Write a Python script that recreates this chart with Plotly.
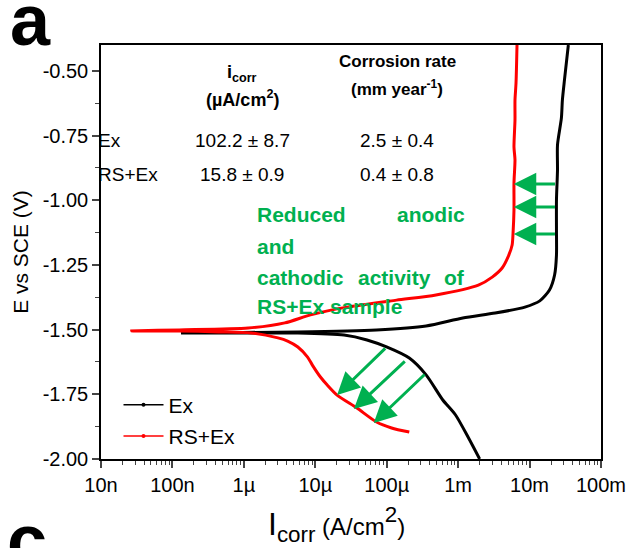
import math
import plotly.graph_objects as go

# Potentiodynamic polarisation curves (current density in A/cm^2, potential in V vs SCE)
ex_current = [2.0e-3, 1.40e-3, 9.2e-4, 6.1e-4, 3.56e-4, 2.07e-4, 9.95e-5, 5.3e-5, 2.53e-5,
              5.7e-6, 1.15e-6, 1.32e-7,
              5.7e-6, 7.2e-5, 3.56e-4, 1.16e-3, 3.3e-3, 8.6e-3, 1.39e-2, 1.9e-2, 2.24e-2,
              2.38e-2, 2.38e-2, 2.38e-2, 2.46e-2, 2.46e-2, 2.79e-2, 2.88e-2, 3.08e-2, 3.49e-2]
ex_potential = [-2.000, -1.919, -1.830, -1.772, -1.675, -1.610, -1.567, -1.540, -1.521,
                -1.513, -1.513, -1.513,
                -1.509, -1.501, -1.486, -1.455, -1.436, -1.413, -1.389, -1.347, -1.289,
                -1.212, -1.115, -0.999, -0.883, -0.786, -0.682, -0.613, -0.535, -0.400]

rsex_current = [2.07e-4, 1.17e-4, 7.2e-5, 3.83e-5, 2.02e-5, 1.47e-5, 1.18e-5, 9.1e-6, 7.8e-6,
                5.7e-6, 4.1e-6, 3.0e-6, 1.26e-6, 4.4e-7, 1.24e-7, 2.69e-8,
                1.24e-7, 1.15e-6, 3.74e-6, 8.6e-6, 2.78e-5, 1.37e-4, 4.89e-4, 1.92e-3,
                3.0e-3, 4.13e-3, 5.0e-3, 5.7e-3, 5.87e-3, 6.05e-3, 6.05e-3, 6.25e-3,
                6.05e-3, 6.25e-3, 6.25e-3, 6.46e-3, 6.67e-3]
rsex_potential = [-1.896, -1.880, -1.857, -1.803, -1.753, -1.714, -1.683, -1.637, -1.606,
                  -1.567, -1.544, -1.532, -1.513, -1.509, -1.505, -1.505,
                  -1.501, -1.494, -1.474, -1.443, -1.413, -1.386, -1.366, -1.328,
                  -1.297, -1.262, -1.219, -1.173, -1.127, -1.038, -0.933, -0.844,
                  -0.794, -0.690, -0.613, -0.547, -0.400]

# Tick labels
x_tick_vals = [1e-8, 1e-7, 1e-6, 1e-5, 1e-4, 1e-3, 1e-2, 1e-1]
x_tick_text = ["10n", "100n", "1µ", "10µ", "100µ", "1m", "10m", "100m"]
y_tick_vals = [-2.00, -1.75, -1.50, -1.25, -1.00, -0.75, -0.50]
y_tick_text = ["-2.00", "-1.75", "-1.50", "-1.25", "-1.00", "-0.75", "-0.50"]

# Arrows (tail current, tail E) -> (head current, head E)
arrow_tail_i = [2.38e-2, 2.38e-2, 2.38e-2, 1.0e-4, 1.88e-4, 3.56e-4]
arrow_tail_e = [-0.937, -1.026, -1.130, -1.567, -1.617, -1.668]
arrow_head_i = [6.0e-3, 6.0e-3, 6.0e-3, 2.02e-5, 3.47e-5, 6.58e-5]
arrow_head_e = [-0.937, -1.026, -1.130, -1.753, -1.807, -1.861]

# Summary table
table_rows = ["Ex", "RS+Ex"]
table_icorr = ["102.2 ± 8.7", "15.8 ± 0.9"]
table_rate = ["2.5 ± 0.4", "0.4 ± 0.8"]

GREEN = "#00B050"
FONT = "Liberation Sans, Arial, Helvetica, sans-serif"

fig = go.Figure()

fig.add_trace(go.Scatter(x=ex_current, y=ex_potential, mode="lines", showlegend=False,
                         line=dict(color="black", width=3, shape="spline", smoothing=0.7)))
fig.add_trace(go.Scatter(x=rsex_current, y=rsex_potential, mode="lines", showlegend=False,
                         line=dict(color="#FF0000", width=3, shape="spline", smoothing=0.7)))

# legend entries with thin line and a small marker
fig.add_trace(go.Scatter(x=[None], y=[None], mode="lines+markers", name="Ex", legendgroup="a",
                         line=dict(color="black", width=1.5), marker=dict(size=4, color="black")))
fig.add_trace(go.Scatter(x=[None], y=[None], mode="lines+markers", name="RS+Ex", legendgroup="b",
                         line=dict(color="#FF0000", width=1.5), marker=dict(size=4, color="#FF0000")))

annotations = []
for ti, te, hi, he in zip(arrow_tail_i, arrow_tail_e, arrow_head_i, arrow_head_e):
    annotations.append(dict(x=math.log10(hi), y=he, ax=math.log10(ti), ay=te,
                            xref="x", yref="y", axref="x", ayref="y", text="",
                            showarrow=True, arrowhead=2, arrowsize=1.5, arrowwidth=3,
                            arrowcolor=GREEN, standoff=0))


def px2paper(px, py):
    return (px - 101) / 506.0, (459 - py) / 414.0


def text_at(px, py, text, size, bold=False, color="black", xanchor="center"):
    x, y = px2paper(px, py)
    if bold:
        text = "<b>" + text + "</b>"
    annotations.append(dict(x=x, y=y, xref="paper", yref="paper", text=text, showarrow=False,
                            xanchor=xanchor, yanchor="middle",
                            font=dict(family=FONT, size=size, color=color)))


# table header
text_at(244, 74, "i<sub>corr</sub>", 18, bold=True)
text_at(244, 98, "(µA/cm<sup>2</sup>)", 18, bold=True)
text_at(401, 62, "Corrosion rate", 17, bold=True)
text_at(401, 88, "(mm year<sup>-1</sup>)", 17, bold=True)
for row, ic, cr, py in zip(table_rows, table_icorr, table_rate, [140, 174]):
    text_at(96, py, row, 19, xanchor="left")
    text_at(244, py, ic, 19)
    text_at(401, py, cr, 19)

# green note
text_at(257, 214, "Reduced", 21, bold=True, color=GREEN, xanchor="left")
text_at(471, 214, "anodic", 21, bold=True, color=GREEN, xanchor="right")
text_at(257, 246, "and", 21, bold=True, color=GREEN, xanchor="left")
text_at(257, 277, "cathodic", 21, bold=True, color=GREEN, xanchor="left")
text_at(398, 277, "activity", 21, bold=True, color=GREEN)
text_at(471, 277, "of", 21, bold=True, color=GREEN, xanchor="right")
text_at(257, 307, "RS+Ex sample", 21, bold=True, color=GREEN, xanchor="left")

# x-axis title
text_at(339, 524, "I<sub>corr</sub><span style='font-size:24px'> (A/cm</span>"
        "<sup>2</sup><span style='font-size:24px'>)</span>", 32)

# panel letters
text_at(30, 20, "a", 72, bold=True)
text_at(26, 540, "c", 72, bold=True)

fig.update_layout(
    width=638, height=548,
    margin=dict(l=101, r=31, t=45, b=89),
    paper_bgcolor="white", plot_bgcolor="white",
    font=dict(family=FONT, size=20, color="black"),
    annotations=annotations,
    legend=dict(x=0.035, y=0.18, xanchor="left", yanchor="top", bgcolor="rgba(0,0,0,0)",
                font=dict(size=21), tracegroupgap=1, itemwidth=40),
    xaxis=dict(type="log", range=[-8, -1], tickvals=x_tick_vals, ticktext=x_tick_text,
               ticks="outside", ticklen=7, tickwidth=1.5, showline=True, linewidth=1.5,
               linecolor="black", mirror=True, showgrid=False, zeroline=False,
               tickfont=dict(size=20),
               minor=dict(tickvals=[m * 10.0 ** d for d in range(-8, -1) for m in range(2, 10)],
                          ticks="outside", ticklen=4, tickwidth=1, showgrid=False)),
    yaxis=dict(range=[-2.0, -0.4], tickvals=y_tick_vals, ticktext=y_tick_text,
               ticks="outside", ticklen=7, tickwidth=1.5, showline=True, linewidth=1.5,
               linecolor="black", mirror=True, showgrid=False, zeroline=False,
               tickfont=dict(size=20),
               minor=dict(dtick=0.125, tick0=-2.0, ticks="outside", ticklen=4, tickwidth=1,
                          showgrid=False),
               title=dict(text="E vs SCE (V)", font=dict(size=21), standoff=8)),
)

fig.write_html("out.html")
